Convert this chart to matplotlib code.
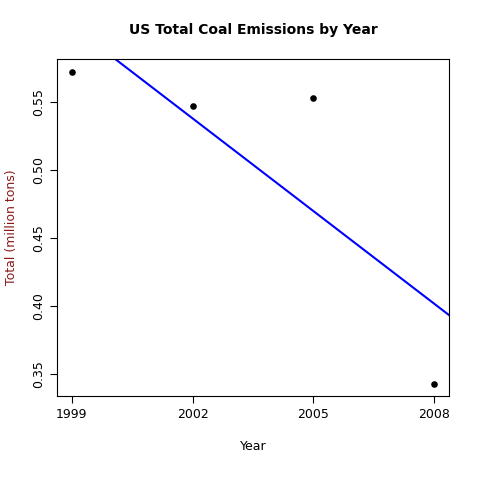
import numpy as np
import matplotlib.pyplot as plt

years = [1999, 2002, 2005, 2008]
totals = [0.5725, 0.5470, 0.5534, 0.3432]
yticks = [0.35, 0.40, 0.45, 0.50, 0.55]

fig = plt.figure(figsize=(4.8, 4.8), dpi=100)
ax = fig.add_axes([0.119, 0.175, 0.816, 0.702])

ax.scatter(years, totals, s=14, color='black', zorder=3)

# least squares fit, drawn across the whole panel like abline()
slope, icpt = np.polyfit(years, totals, 1)
xr = np.array([1990, 2020])
ax.plot(xr, icpt + slope * xr, color='blue', lw=1.5)

dx = (years[-1] - years[0]) * 0.04
dy = (max(totals) - min(totals)) * 0.04
ax.set_xlim(years[0] - dx, years[-1] + dx)
ax.set_ylim(min(totals) - dy, max(totals) + dy)

ax.set_xticks(years)
ax.set_yticks(yticks)
ax.set_yticklabels([f'{v:.2f}' for v in yticks], rotation=90, va='center')
ax.tick_params(labelsize=9, length=5)

ax.set_title('US Total Coal Emissions by Year', fontsize=10, fontweight='bold', pad=18)
ax.set_xlabel('Year', fontsize=9, labelpad=14)
ax.set_ylabel('Total (million tons)', fontsize=9, color='#8b1a1a', labelpad=10)

fig.savefig('out.png', dpi=100)
